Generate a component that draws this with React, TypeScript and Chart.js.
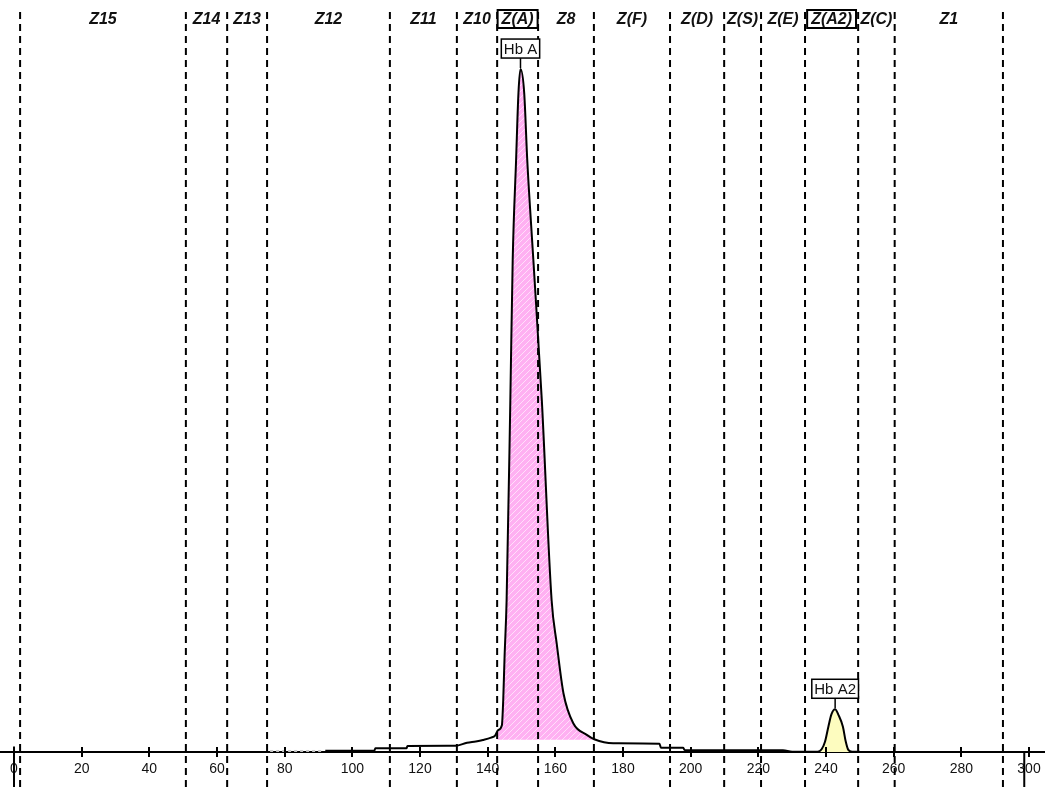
import React, { useEffect, useRef } from 'react';
import { Chart, registerables } from 'chart.js';

Chart.register(...registerables);

// ---- data ----
const tickValues = [0, 20, 40, 60, 80, 100, 120, 140, 160, 180, 200, 220, 240, 260, 280, 300];

const zoneBoundaries = [1.8, 50.8, 63.0, 74.8, 111.1, 130.9, 142.8, 154.9, 171.4, 193.9, 209.9, 220.8, 233.8, 249.5, 260.3, 292.3];
const zoneNames = ['Z15', 'Z14', 'Z13', 'Z12', 'Z11', 'Z10', 'Z(A)', 'Z8', 'Z(F)', 'Z(D)', 'Z(S)', 'Z(E)', 'Z(A2)', 'Z(C)', 'Z1'];
const boxedZones = ['Z(A)', 'Z(A2)'];

const traceX = [
  92.0, 106.5, 106.8, 116.0, 116.3, 130.5, 133.9, 136.5, 138.6, 141.0, 142.2, 143.1, 144.2, 144.6, 145.0, 145.6,
  146.7, 147.4, 148.4, 149.1, 149.7, 150.8, 151.7, 153.5, 156.0, 158.9, 160.4, 162.4, 165.3, 169.3, 171.5, 177.1,
  190.8, 191.2, 197.8, 198.2, 227.3, 230.0, 237.5, 238.7, 239.7, 240.7, 241.6, 242.7, 243.7, 245.0, 245.8, 246.6,
  247.7, 250.0,
];
const traceY = [
  0.2, 0.2, 0.55, 0.55, 0.88, 0.9, 1.36, 1.55, 1.76, 2.1, 2.4, 3.2, 3.9, 7.6, 14.0, 22.2,
  51.5, 72.0, 86.6, 96.4, 99.9, 96.4, 86.6, 72.0, 51.5, 22.2, 15.9, 8.6, 4.2, 2.5, 1.86, 1.27,
  1.2, 0.63, 0.63, 0.3, 0.25, 0.05, 0.05, 0.4, 1.5, 3.7, 5.5, 6.25, 5.4, 3.7, 1.6, 0.3,
  0.05, 0.05,
];

const faintX = [75.7, 91.5];
const faintY = [0.15, 0.15];

const markerX = [0, 298.6];
const markerTopY = [0.8, 0];

const peakNames = ['Hb A', 'Hb A2'];
const peakX = [149.7, 242.7];

const hbAFillRange = [142.8, 171.4];
const hbAFillBase = 1.8;
const hbA2FillRange = [237.5, 248.0];

// ---- helpers ----
function interp(x: number): number {
  for (let i = 0; i < traceX.length - 1; i++) {
    if (x >= traceX[i] && x <= traceX[i + 1]) {
      const t = (x - traceX[i]) / (traceX[i + 1] - traceX[i]);
      return traceY[i] + t * (traceY[i + 1] - traceY[i]);
    }
  }
  return 0;
}
function slice(lo: number, hi: number) {
  const pts: { x: number; y: number }[] = [{ x: lo, y: interp(lo) }];
  traceX.forEach((x, i) => {
    if (x > lo && x < hi) pts.push({ x, y: traceY[i] });
  });
  pts.push({ x: hi, y: interp(hi) });
  return pts;
}

const Y_TOP_LINE = 108.25;
const Y_BOTTOM_LINE = -6;

export default function App() {
  const ref = useRef<HTMLCanvasElement>(null);

  useEffect(() => {
    document.body.style.margin = '0';
    const canvas = ref.current!;
    const pc = document.createElement('canvas');
    pc.width = 6;
    pc.height = 6;
    const p = pc.getContext('2d')!;
    p.fillStyle = '#ffb0f2';
    p.fillRect(0, 0, 6, 6);
    p.strokeStyle = 'rgba(255,225,250,0.95)';
    p.lineWidth = 1;
    p.beginPath();
    p.moveTo(0, 6); p.lineTo(6, 0);
    p.moveTo(-1, 1); p.lineTo(1, -1);
    p.moveTo(5, 7); p.lineTo(7, 5);
    p.stroke();
    const pinkPattern = canvas.getContext('2d')!.createPattern(pc, 'repeat');

    const mainData = traceX.map((x, i) => ({ x, y: traceY[i] }));
    const faintData = faintX.map((x, i) => ({ x, y: faintY[i] }));
    const boundaryData: any[] = [];
    zoneBoundaries.forEach((b) => {
      boundaryData.push({ x: b, y: Y_TOP_LINE }, { x: b, y: Y_BOTTOM_LINE }, { x: b, y: null });
    });
    const markerData: any[] = [];
    markerX.forEach((m, i) => {
      markerData.push({ x: m, y: markerTopY[i] }, { x: m, y: Y_BOTTOM_LINE }, { x: m, y: null });
    });

    const overlay = {
      id: 'overlay',
      afterDatasetsDraw(chart: any) {
        const { ctx, chartArea, scales } = chart;
        const xs = scales.x;
        const ys = scales.y;
        ctx.save();
        // tick marks above the axis
        ctx.strokeStyle = '#000';
        ctx.lineWidth = 2;
        xs.ticks.forEach((t: any) => {
          const px = Math.round(xs.getPixelForValue(t.value));
          ctx.beginPath();
          ctx.moveTo(px, chartArea.bottom - 5);
          ctx.lineTo(px, chartArea.bottom);
          ctx.stroke();
        });
        // zone labels
        ctx.font = 'italic bold 16px "Liberation Sans", Arial, sans-serif';
        ctx.textAlign = 'center';
        ctx.textBaseline = 'middle';
        zoneNames.forEach((name, i) => {
          const cx = (xs.getPixelForValue(zoneBoundaries[i]) + xs.getPixelForValue(zoneBoundaries[i + 1])) / 2;
          const cy = 19;
          if (boxedZones.includes(name)) {
            const w = ctx.measureText(name).width + 8;
            ctx.fillStyle = '#fff';
            ctx.fillRect(cx - w / 2, 10, w, 18);
            ctx.lineWidth = 2;
            ctx.strokeStyle = '#000';
            ctx.strokeRect(cx - w / 2, 10, w, 18);
          }
          ctx.fillStyle = '#111';
          ctx.fillText(name, cx, cy + 1);
        });
        // peak labels
        ctx.font = '15px "Liberation Sans", Arial, sans-serif';
        peakNames.forEach((name, i) => {
          const px = xs.getPixelForValue(peakX[i]);
          const py = ys.getPixelForValue(interp(peakX[i]));
          const w = ctx.measureText(name).width + 5;
          const cy = py - 20.5;
          ctx.strokeStyle = '#000';
          ctx.lineWidth = 1.5;
          ctx.beginPath();
          ctx.moveTo(px, cy + 9.5);
          ctx.lineTo(px, py - 1);
          ctx.stroke();
          ctx.fillStyle = '#fff';
          ctx.fillRect(px - w / 2, cy - 9.5, w, 19);
          ctx.strokeRect(px - w / 2, cy - 9.5, w, 19);
          ctx.fillStyle = '#111';
          ctx.fillText(name, px, cy + 1);
        });
        ctx.restore();
      },
    };

    const chart = new Chart(canvas, {
      type: 'line',
      data: {
        datasets: [
          {
            label: 'trace',
            data: mainData,
            borderColor: '#000',
            borderWidth: 2,
            pointRadius: 0,
            fill: false,
            cubicInterpolationMode: 'monotone',
          },
          {
            label: 'zones',
            data: boundaryData,
            borderColor: '#000',
            borderWidth: 2,
            borderDash: [7, 5],
            pointRadius: 0,
            fill: false,
            spanGaps: false,
            clip: false,
          },
          {
            label: 'markers',
            data: markerData,
            borderColor: '#000',
            borderWidth: 2,
            pointRadius: 0,
            fill: false,
            spanGaps: false,
            clip: false,
          },
          {
            label: 'faint',
            data: faintData,
            borderColor: '#c8c8c8',
            borderWidth: 2,
            borderDash: [3, 3],
            pointRadius: 0,
            fill: false,
          },
          {
            label: 'Hb A',
            data: slice(hbAFillRange[0], hbAFillRange[1]),
            borderColor: 'rgba(0,0,0,0)',
            backgroundColor: pinkPattern as any,
            pointRadius: 0,
            fill: { value: hbAFillBase },
            cubicInterpolationMode: 'monotone',
          },
          {
            label: 'Hb A2',
            data: slice(hbA2FillRange[0], hbA2FillRange[1]),
            borderColor: 'rgba(0,0,0,0)',
            backgroundColor: '#fdfcbf',
            pointRadius: 0,
            fill: 'origin',
            cubicInterpolationMode: 'monotone',
          },
        ],
      },
      options: {
        responsive: false,
        animation: false,
        events: [],
        layout: { padding: 0 },
        plugins: { legend: { display: false }, tooltip: { enabled: false } },
        scales: {
          x: {
            type: 'linear',
            min: -4.14,
            max: 304.73,
            position: 'bottom',
            afterBuildTicks: (s: any) => {
              s.ticks = tickValues.map((value) => ({ value }));
            },
            afterFit: (s: any) => {
              s.height = 35;
            },
            ticks: {
              autoSkip: false,
              maxRotation: 0,
              padding: 4,
              color: '#111',
              font: { family: '"Liberation Sans", Arial, sans-serif', size: 14 },
              callback: (v: any) => String(v),
            },
            grid: { display: true, drawOnChartArea: false, drawTicks: true, tickLength: 5, color: '#000', lineWidth: 2 },
            border: { display: true, color: '#000', width: 2 },
          },
          y: { type: 'linear', display: false, min: 0, max: 110 },
        },
      },
      plugins: [overlay],
    } as any);
    return () => chart.destroy();
  }, []);

  return (
    <canvas
      ref={ref}
      width={1045}
      height={787}
      style={{ position: 'absolute', left: 0, top: 0, display: 'block', background: '#fff' }}
    />
  );
}
